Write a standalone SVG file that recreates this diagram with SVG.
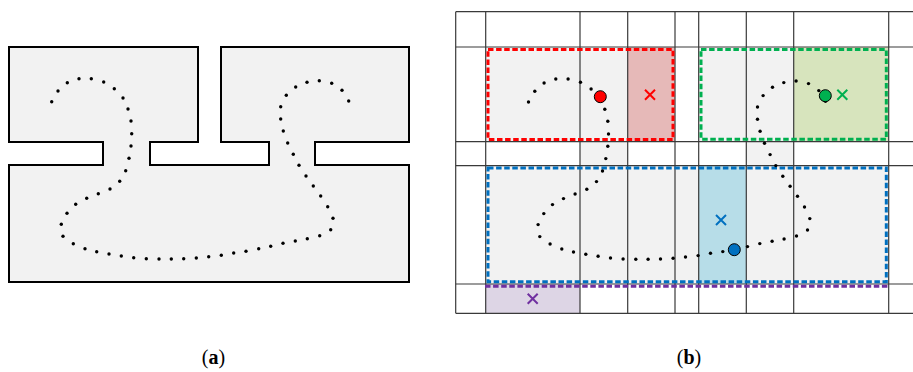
<svg xmlns="http://www.w3.org/2000/svg" xmlns:xlink="http://www.w3.org/1999/xlink" width="913" height="372" viewBox="0 0 913 372">
<style>
.shape{fill:#f2f2f2;stroke:#000;stroke-width:2;stroke-linejoin:miter}
.grid{stroke:#3a3a3a;stroke-width:1.2;fill:none}
.dot{fill:#000}
.dash{fill:none;stroke-width:3;stroke-dasharray:5.5 2.6}
.xm{stroke-width:2;fill:none}
.lab{font-family:"Liberation Serif",serif;font-size:20px;fill:#000}
</style>
<defs>
<g id="curve">
<circle cx="51.7" cy="101.7" r="1.7"/><circle cx="58" cy="91" r="1.7"/><circle cx="67.3" cy="82.7" r="1.7"/><circle cx="79" cy="78.7" r="1.7"/><circle cx="91.3" cy="78.7" r="1.7"/><circle cx="103.7" cy="82" r="1.7"/><circle cx="114.3" cy="88.7" r="1.7"/><circle cx="123" cy="98" r="1.7"/><circle cx="128" cy="109" r="1.7"/><circle cx="131" cy="121" r="1.7"/><circle cx="131.7" cy="133.7" r="1.7"/><circle cx="131" cy="146" r="1.7"/><circle cx="129" cy="158.3" r="1.7"/><circle cx="125.7" cy="170.7" r="1.7"/><circle cx="119.7" cy="181.3" r="1.7"/><circle cx="110" cy="189" r="1.7"/><circle cx="98.3" cy="193.7" r="1.7"/><circle cx="86.7" cy="198.3" r="1.7"/><circle cx="75.7" cy="204.3" r="1.7"/><circle cx="67" cy="213.3" r="1.7"/><circle cx="61.3" cy="224.3" r="1.7"/><circle cx="63" cy="236.3" r="1.7"/><circle cx="73.3" cy="243.7" r="1.7"/><circle cx="85" cy="248.7" r="1.7"/><circle cx="96.7" cy="251.7" r="1.7"/><circle cx="109" cy="254" r="1.7"/><circle cx="121.3" cy="256" r="1.7"/><circle cx="133.7" cy="257.7" r="1.7"/><circle cx="146.3" cy="258.7" r="1.7"/><circle cx="159" cy="259" r="1.7"/><circle cx="171.3" cy="259" r="1.7"/><circle cx="183.7" cy="258.7" r="1.7"/><circle cx="196.3" cy="258" r="1.7"/><circle cx="208.7" cy="256.7" r="1.7"/><circle cx="221.3" cy="255.3" r="1.7"/><circle cx="233.7" cy="253" r="1.7"/><circle cx="246" cy="251.3" r="1.7"/><circle cx="258.7" cy="248.7" r="1.7"/><circle cx="270.7" cy="246.3" r="1.7"/><circle cx="283" cy="243.3" r="1.7"/><circle cx="295.3" cy="241" r="1.7"/><circle cx="307.3" cy="238.7" r="1.7"/><circle cx="319.7" cy="235.7" r="1.7"/><circle cx="330.7" cy="229.7" r="1.7"/><circle cx="333" cy="218.3" r="1.7"/><circle cx="327.7" cy="206.7" r="1.7"/><circle cx="320.7" cy="196" r="1.7"/><circle cx="313.3" cy="186" r="1.7"/><circle cx="306" cy="176" r="1.7"/><circle cx="299" cy="165.3" r="1.7"/><circle cx="293.3" cy="154.3" r="1.7"/><circle cx="287.7" cy="143" r="1.7"/><circle cx="283.3" cy="131" r="1.7"/><circle cx="280.7" cy="119" r="1.7"/><circle cx="280.7" cy="106.7" r="1.7"/><circle cx="286.3" cy="95.3" r="1.7"/><circle cx="295.7" cy="87" r="1.7"/><circle cx="307" cy="82.3" r="1.7"/><circle cx="319.3" cy="80.7" r="1.7"/><circle cx="331.7" cy="83.3" r="1.7"/><circle cx="342" cy="90.3" r="1.7"/><circle cx="348.7" cy="101" r="1.7"/>
</g>
</defs>

<g id="panel-a">
<path class="shape" d="M9,47 H198 V142 H150 V165 H269 V142 H221 V47 H409 V142 H315 V165 H409 V282 H9 V165 H103 V142 H9 Z"/>
<use xlink:href="#curve" class="dot"/>
<text class="lab" x="213.5" y="364" text-anchor="middle">(<tspan font-weight="bold">a</tspan>)</text>
</g>

<g id="panel-b">
<g id="cells">
<rect x="485.7" y="47" width="189.3" height="94.7" fill="#f2f2f2"/>
<rect x="698.7" y="47" width="190" height="94.7" fill="#f2f2f2"/>
<rect x="580" y="141.7" width="47.7" height="24" fill="#f2f2f2"/>
<rect x="746.3" y="141.7" width="47.4" height="24" fill="#f2f2f2"/>
<rect x="485.7" y="165.7" width="403" height="118.3" fill="#f2f2f2"/>
<rect x="627.7" y="47" width="47.3" height="94.7" fill="#e6b9b8"/>
<rect x="793.7" y="47" width="95" height="94.7" fill="#d7e4bd"/>
<rect x="698.7" y="165.7" width="47.6" height="118.3" fill="#b7dde8"/>
<rect x="485.7" y="284" width="94.3" height="29.3" fill="#ddd5e5"/>
</g>
<g id="grid" class="grid">
<path d="M455.7,11.7 H913 M455.7,47 H913 M455.7,141.7 H913 M455.7,165.7 H913 M455.7,284 H913 M455.7,313.3 H913"/>
<path d="M455.7,11.7 V313.3 M485.7,11.7 V313.3 M580,11.7 V313.3 M627.7,11.7 V313.3 M675,11.7 V313.3 M698.7,11.7 V313.3 M746.3,11.7 V313.3 M793.7,11.7 V313.3 M888.7,11.7 V313.3"/>
</g>
<g id="regions">
<rect class="dash" x="488" y="49.5" width="185" height="90" stroke="#ff0000"/>
<rect class="dash" x="701" y="49.5" width="185.3" height="89.7" stroke="#00b050"/>
<rect class="dash" x="488" y="168" width="398.3" height="113.7" stroke="#0070c0"/>
<path class="dash" d="M485,286.3 H889" stroke="#7030a0"/>
</g>
<use xlink:href="#curve" class="dot" transform="translate(476.8,0.3)"/>
<g id="markers">
<circle cx="600.3" cy="96.7" r="6" fill="#ff0000" stroke="#000" stroke-width="1"/>
<circle cx="825.3" cy="95.7" r="6" fill="#00b050" stroke="#000" stroke-width="1"/>
<circle cx="734.3" cy="249.7" r="6" fill="#0070c0" stroke="#000" stroke-width="1"/>
<path class="xm" stroke="#ff0000" d="M645,89.7 L655,99.7 M655,89.7 L645,99.7"/>
<path class="xm" stroke="#00b050" d="M837.3,89.7 L847.3,99.7 M847.3,89.7 L837.3,99.7"/>
<path class="xm" stroke="#0070c0" d="M716,215 L726,225 M726,215 L716,225"/>
<path class="xm" stroke="#7030a0" d="M527.7,293.7 L537.7,303.7 M537.7,293.7 L527.7,303.7"/>
</g>
<text class="lab" x="689" y="364" text-anchor="middle">(<tspan font-weight="bold">b</tspan>)</text>
</g>
</svg>
